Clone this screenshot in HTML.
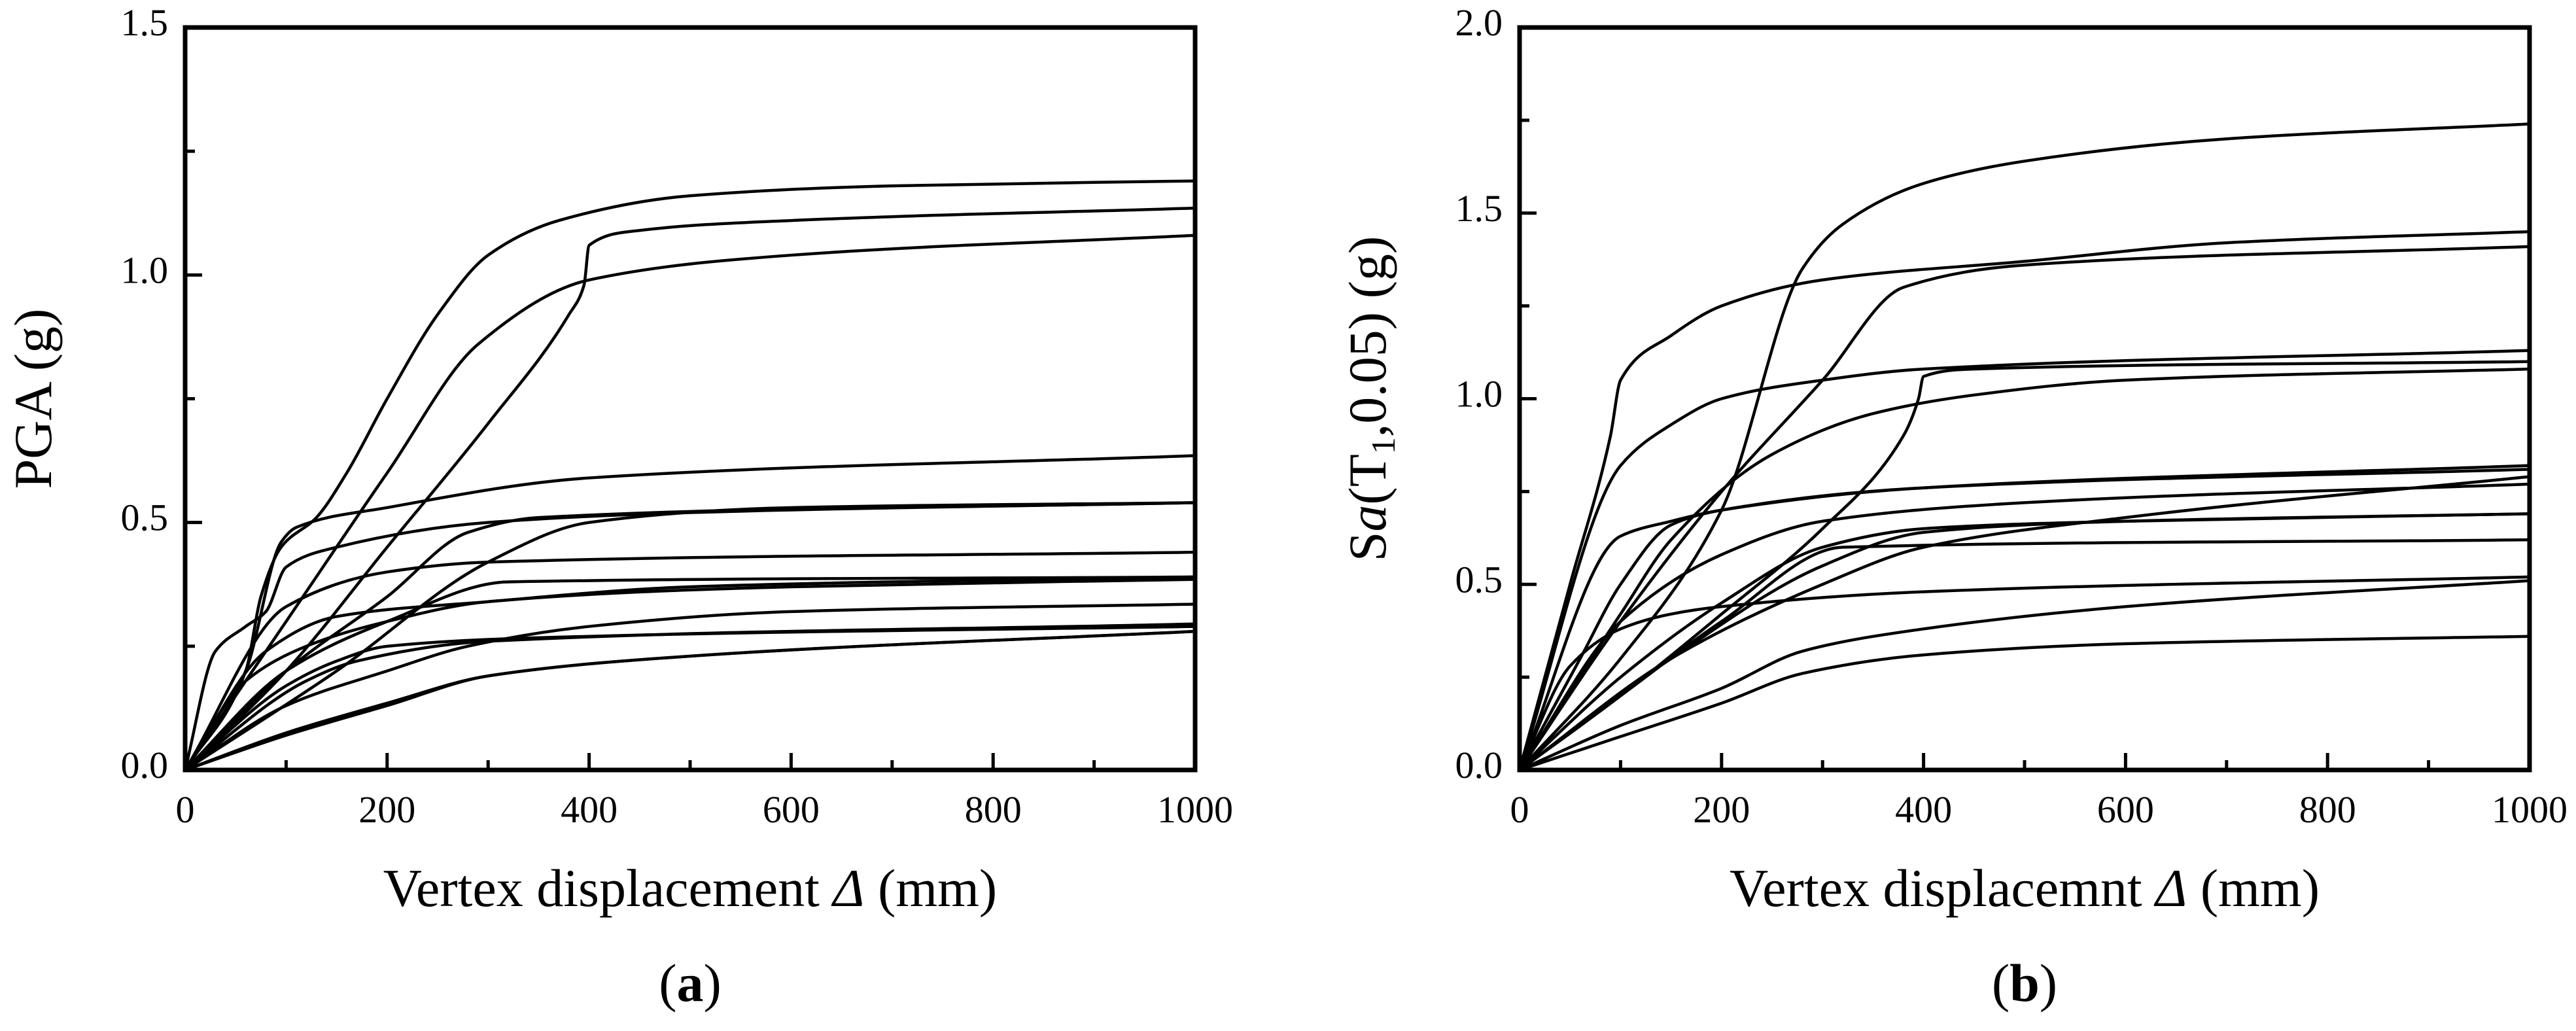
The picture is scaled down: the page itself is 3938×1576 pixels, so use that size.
<!DOCTYPE html>
<html><head><meta charset="utf-8">
<style>
html,body{margin:0;padding:0;background:#fff;}
svg{display:block;}
text{font-family:"Liberation Serif",serif;fill:#000;}
</style></head>
<body>
<svg id="fig" width="3938" height="1576" viewBox="0 0 3938 1576" xmlns="http://www.w3.org/2000/svg"></svg>
<script>
// ---- data: panel (a) PGA curves ----
const xTicks = [0,200,400,600,800,1000];
const yTicksA = [0.0,0.5,1.0,1.5];
const yTicksB = [0.0,0.5,1.0,1.5,2.0];
const seriesA = [
 [[0,0],[60,0.2],[75,0.35],[95,0.45],[130,0.51],[160,0.6],[200,0.75],[250,0.92],[300,1.04],[370,1.11],[500,1.16],[700,1.18],[1000,1.19]],
 [[0,0],[100,0.2],[200,0.45],[300,0.7],[380,0.92],[395,0.98],[400,1.06],[450,1.09],[600,1.11],[1000,1.135]],
 [[0,0],[100,0.3],[200,0.6],[290,0.86],[400,0.99],[600,1.04],[1000,1.08]],
 [[0,0],[60,0.2],[95,0.46],[110,0.49],[200,0.53],[400,0.59],[1000,0.635]],
 [[0,0],[30,0.24],[60,0.29],[80,0.32],[100,0.41],[150,0.45],[300,0.5],[500,0.52],[1000,0.54]],
 [[0,0],[100,0.2],[200,0.35],[280,0.48],[350,0.51],[1000,0.54]],
 [[0,0],[150,0.2],[300,0.42],[400,0.5],[600,0.53],[1000,0.54]],
 [[0,0],[100,0.33],[200,0.4],[300,0.42],[1000,0.44]],
 [[0,0],[100,0.2],[200,0.3],[320,0.38],[1000,0.39]],
 [[0,0],[80,0.24],[150,0.31],[300,0.34],[500,0.37],[1000,0.39]],
 [[0,0],[60,0.18],[120,0.25],[200,0.3],[300,0.34],[600,0.37],[1000,0.385]],
 [[0,0],[100,0.13],[200,0.2],[280,0.25],[400,0.29],[600,0.32],[1000,0.335]],
 [[0,0],[100,0.17],[150,0.22],[200,0.25],[400,0.27],[1000,0.29]],
 [[0,0],[120,0.18],[170,0.22],[300,0.26],[1000,0.295]],
 [[0,0],[100,0.07],[200,0.13],[300,0.19],[500,0.23],[1000,0.28]],
 [[0,0],[100,0.075],[200,0.135],[300,0.19],[500,0.23],[1000,0.28]]
];
// ---- data: panel (b) Sa curves ----
const seriesB = [
 [[0,0],[100,0.3],[200,0.7],[280,1.35],[320,1.47],[400,1.58],[500,1.64],[700,1.7],[1000,1.74]],
 [[0,0],[50,0.5],[90,0.9],[100,1.05],[150,1.17],[200,1.25],[300,1.32],[500,1.37],[700,1.42],[1000,1.45]],
 [[0,0],[100,0.4],[200,0.75],[300,1.05],[380,1.3],[500,1.36],[1000,1.41]],
 [[0,0],[100,0.82],[150,0.93],[200,1.0],[300,1.05],[400,1.08],[1000,1.13]],
 [[0,0],[100,0.2],[200,0.42],[300,0.65],[380,0.9],[395,1.0],[400,1.06],[450,1.08],[1000,1.10]],
 [[0,0],[100,0.42],[150,0.62],[250,0.85],[350,0.96],[450,1.01],[600,1.05],[1000,1.08]],
 [[0,0],[100,0.63],[150,0.67],[200,0.7],[400,0.76],[1000,0.82]],
 [[0,0],[60,0.3],[100,0.5],[150,0.66],[200,0.7],[400,0.76],[1000,0.81]],
 [[0,0],[100,0.4],[200,0.58],[300,0.67],[500,0.72],[1000,0.77]],
 [[0,0],[150,0.3],[300,0.5],[400,0.6],[600,0.68],[1000,0.79]],
 [[0,0],[100,0.25],[200,0.45],[300,0.6],[400,0.65],[600,0.67],[1000,0.69]],
 [[0,0],[150,0.3],[300,0.55],[400,0.64],[600,0.67],[1000,0.69]],
 [[0,0],[100,0.2],[200,0.4],[320,0.6],[1000,0.62]],
 [[0,0],[50,0.28],[100,0.38],[150,0.42],[200,0.44],[400,0.48],[1000,0.52]],
 [[0,0],[100,0.12],[200,0.22],[280,0.32],[400,0.38],[600,0.44],[1000,0.51]],
 [[0,0],[100,0.09],[200,0.18],[280,0.26],[400,0.31],[600,0.34],[1000,0.36]]
];

const NS='http://www.w3.org/2000/svg';
const svg=document.getElementById('fig');
function mk(tag,attrs,parent){const e=document.createElementNS(NS,tag);for(const k in attrs)e.setAttribute(k,attrs[k]);(parent||svg).appendChild(e);return e;}

// monotone cubic (Fritsch-Carlson) path in pixel space
function monoPath(p){
  const n=p.length, dx=[], m=[], t=[];
  for(let i=0;i<n-1;i++){dx[i]=p[i+1][0]-p[i][0];m[i]=(p[i+1][1]-p[i][1])/dx[i];}
  t[0]=m[0];t[n-1]=m[n-2];
  for(let i=1;i<n-1;i++){
    if(m[i-1]*m[i]<=0)t[i]=0;
    else{const w1=2*dx[i]+dx[i-1],w2=dx[i]+2*dx[i-1];t[i]=(w1+w2)/(w1/m[i-1]+w2/m[i]);}
  }
  let d='M'+p[0][0]+','+p[0][1];
  for(let i=0;i<n-1;i++){
    const h=dx[i]/3;
    d+=' C'+(p[i][0]+h)+','+(p[i][1]+t[i]*h)+' '+(p[i+1][0]-h)+','+(p[i+1][1]-t[i+1]*h)+' '+p[i+1][0]+','+p[i+1][1];
  }
  return d;
}

function panel(id,x0,x1,y0,y1,ymax,yTicks,series,ytitleParts,xtitle,letter){
  const g=mk('g',{});
  
  
  const sx=v=>x0+(v/1000)*(x1-x0);
  const sy=v=>y1-(v/ymax)*(y1-y0);
  const cp=mk('clipPath',{id:'clip'+id},g);
  mk('rect',{x:x0,y:y0,width:x1-x0,height:y1-y0},cp);
  const cg=mk('g',{'clip-path':'url(#clip'+id+')'},g);
  series.forEach((s,i)=>{
    const p=s.map(d=>[sx(d[0]),sy(d[1])]);
    const path=mk('path',{d:monoPath(p),fill:'none',stroke:'#000','stroke-width':4.5,'stroke-linejoin':'round'},cg);
    
    
  });
  const fr=mk('rect',{x:x0,y:y0,width:x1-x0,height:y1-y0,fill:'none',stroke:'#000','stroke-width':7},g);
  
  
  for(let v=0;v<=1000;v+=100){
    const major=v%200===0;
    mk('line',{x1:sx(v),x2:sx(v),y1:y1,y2:y1-(major?26:15),stroke:'#000','stroke-width':5},g);
  }
  xTicks.forEach(v=>{
    const t=mk('text',{x:sx(v),y:y1+80,'font-size':58,'text-anchor':'middle'},g);
    t.textContent=String(v);
    
    
  });
  for(let v=0;v<=ymax+1e-9;v+=0.25){
    const major=Math.abs(v*2-Math.round(v*2))<1e-9;
    mk('line',{x1:x0,x2:x0+(major?26:15),y1:sy(v),y2:sy(v),stroke:'#000','stroke-width':5},g);
  }
  yTicks.forEach(v=>{
    const t=mk('text',{x:x0-26,y:sy(v)+12,'font-size':58,'text-anchor':'end'},g);
    t.textContent=v.toFixed(1);
    
    
  });
  const xt=mk('text',{x:(x0+x1)/2,y:1385,'font-size':82,'text-anchor':'middle'},g);
  
  
  xt.innerHTML=xtitle;
  const yt=mk('text',{x:0,y:0,'font-size':82,'text-anchor':'middle',transform:'translate('+(x0-205)+','+((y0+y1)/2)+') rotate(-90)'},g);
  
  
  yt.innerHTML=ytitleParts;
  const lt=mk('text',{x:(x0+x1)/2,y:1530,'font-size':82,'text-anchor':'middle'},g);
  
  
  lt.innerHTML='(<tspan font-weight="bold">'+letter+'</tspan>)';
}
panel('a',283,1827,42,1177,1.5,yTicksA,seriesA,'PGA (g)','Vertex  displacement <tspan font-style="italic">Δ</tspan> (mm)','a');
panel('b',2323,3867,42,1177,2.0,yTicksB,seriesB,'S<tspan font-style="italic">a</tspan>(T<tspan font-size="52" dy="14">1</tspan><tspan dy="-14">,0.05) (g)</tspan>','Vertex displacemnt <tspan font-style="italic">Δ</tspan> (mm)','b');
</script>
</body></html>
